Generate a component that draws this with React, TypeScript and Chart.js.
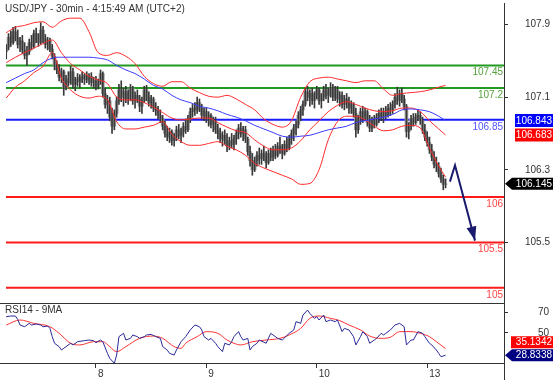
import React, { useEffect, useRef } from 'react';
import { Chart, registerables } from 'chart.js';

Chart.register(...registerables);

const FONT = "'Liberation Sans', Arial, Helvetica, sans-serif";
const TITLE = 'USD/JPY - 30min - 4:15:49 AM (UTC+2)';
const RSI_TITLE = 'RSI14 - 9MA';

const X_MIN = -0.1;
const X_MAX = 216.4;
const PRICE_MIN = 104.833;
const PRICE_MAX = 108.137;
const RSI_MIN = 21.4;
const RSI_MAX = 78.6;

const dayTickIndex = [39, 87, 135, 183];
const dayTickLabels = ['8', '9', '10', '13'];
const priceTicks = [105.5, 106.3, 107.1, 107.9];
const rsiTicks = [50, 70];

const opens = [
  107.60,107.65,107.76,107.70,107.82,107.75,107.68,107.72,107.62,107.56,107.60,107.70,
  107.66,107.80,107.74,107.70,107.84,107.74,107.68,107.72,107.63,107.55,107.44,107.40,
  107.32,107.38,107.20,107.30,107.26,107.38,107.24,107.30,107.27,107.32,107.30,107.34,
  107.29,107.33,107.26,107.28,107.22,107.26,107.36,107.14,107.02,107.06,106.88,106.78,
  106.92,107.06,107.18,107.10,107.16,107.08,107.14,107.20,107.06,107.12,107.08,107.00,
  107.06,107.18,107.10,107.04,107.08,106.98,106.96,106.90,106.86,106.78,106.70,106.66,
  106.72,106.62,106.66,106.74,106.68,106.72,106.78,106.74,106.86,106.94,106.98,106.96,
  107.04,106.98,106.90,106.94,106.86,106.90,106.80,106.84,106.74,106.70,106.64,106.68,
  106.62,106.56,106.62,106.58,106.64,106.70,106.76,106.70,106.74,106.64,106.50,106.40,
  106.30,106.40,106.46,106.42,106.48,106.44,106.38,106.48,106.44,106.52,106.46,106.56,
  106.52,106.48,106.58,106.54,106.64,106.70,106.76,106.80,106.90,106.96,107.02,107.16,
  107.10,107.14,107.06,107.12,107.18,107.06,107.10,107.18,107.12,107.16,107.20,107.10,
  107.18,107.08,107.12,107.02,107.08,107.04,106.98,107.02,106.92,106.74,106.86,106.94,
  106.88,106.94,106.82,106.76,106.84,106.80,106.88,106.92,106.88,106.94,106.90,106.98,
  106.96,107.02,107.10,107.06,107.14,107.08,107.00,106.72,106.78,106.86,106.82,106.88,
  106.90,106.84,106.74,106.66,106.60,106.52,106.44,106.36,106.34,106.26,106.20,106.14,
];
const highs = [
  107.68,107.80,107.83,107.87,107.88,107.84,107.76,107.78,107.70,107.66,107.74,107.78,
  107.84,107.86,107.80,107.92,107.88,107.79,107.76,107.75,107.68,107.58,107.50,107.46,
  107.42,107.40,107.34,107.38,107.44,107.42,107.32,107.36,107.35,107.38,107.36,107.38,
  107.36,107.37,107.32,107.33,107.30,107.40,107.38,107.20,107.12,107.10,106.98,106.96,
  107.10,107.24,107.28,107.20,107.22,107.18,107.24,107.22,107.16,107.18,107.12,107.10,
  107.22,107.23,107.16,107.12,107.10,107.04,107.00,106.96,106.90,106.84,106.78,106.76,
  106.74,106.70,106.78,106.80,106.76,106.82,106.86,106.90,106.98,107.02,107.04,107.10,
  107.08,107.02,106.98,106.98,106.94,106.92,106.88,106.88,106.80,106.76,106.72,106.74,
  106.70,106.66,106.70,106.68,106.74,106.80,106.82,106.78,106.78,106.66,106.56,106.48,
  106.44,106.50,106.54,106.52,106.56,106.50,106.52,106.54,106.56,106.58,106.60,106.66,
  106.58,106.62,106.66,106.68,106.74,106.80,106.84,106.94,107.00,107.06,107.20,107.22,
  107.18,107.20,107.16,107.22,107.20,107.14,107.22,107.24,107.20,107.26,107.24,107.22,
  107.22,107.16,107.16,107.12,107.14,107.10,107.06,107.04,106.98,106.90,106.98,107.00,
  106.98,106.96,106.90,106.88,106.90,106.92,106.96,106.98,106.98,107.00,107.02,107.04,
  107.06,107.14,107.21,107.18,107.20,107.12,107.02,106.82,106.90,106.92,106.92,106.96,
  106.94,106.88,106.80,106.72,106.66,106.58,106.50,106.44,106.38,106.32,106.24,106.20,
];
const lows = [
  107.52,107.62,107.66,107.68,107.72,107.64,107.60,107.58,107.52,107.45,107.57,107.62,
  107.64,107.70,107.66,107.68,107.70,107.64,107.62,107.60,107.52,107.40,107.36,107.28,
  107.26,107.12,107.18,107.22,107.24,107.20,107.17,107.22,107.20,107.26,107.24,107.26,
  107.24,107.22,107.20,107.18,107.19,107.24,107.10,106.98,106.92,106.84,106.70,106.74,
  106.88,107.02,107.05,107.00,107.04,107.02,107.06,107.02,106.98,107.04,106.94,106.92,
  107.04,107.06,107.00,106.98,106.94,106.90,106.86,106.82,106.74,106.66,106.62,106.60,
  106.57,106.56,106.62,106.64,106.60,106.66,106.70,106.72,106.82,106.88,106.90,106.92,
  106.94,106.86,106.84,106.82,106.78,106.76,106.72,106.70,106.64,106.60,106.56,106.58,
  106.50,106.52,106.54,106.52,106.58,106.64,106.66,106.62,106.60,106.46,106.34,106.24,
  106.28,106.34,106.36,106.36,106.40,106.32,106.36,106.40,106.40,106.42,106.44,106.48,
  106.42,106.46,106.50,106.52,106.58,106.62,106.68,106.76,106.84,106.90,107.00,107.06,
  107.00,107.02,106.98,107.08,107.02,106.98,107.06,107.08,107.04,107.10,107.06,107.06,
  107.04,107.00,106.98,106.96,106.98,106.92,106.92,106.88,106.66,106.70,106.80,106.82,
  106.84,106.78,106.72,106.72,106.76,106.78,106.82,106.84,106.82,106.86,106.88,106.90,
  106.92,106.98,107.02,107.00,107.04,106.96,106.66,106.64,106.74,106.78,106.80,106.84,
  106.80,106.70,106.62,106.56,106.48,106.40,106.32,106.28,106.22,106.16,106.08,106.10,
];
const closes = [
  107.65,107.76,107.70,107.82,107.75,107.68,107.72,107.62,107.56,107.60,107.70,107.66,
  107.80,107.74,107.70,107.84,107.74,107.68,107.72,107.63,107.55,107.44,107.40,107.32,
  107.38,107.20,107.30,107.26,107.38,107.24,107.30,107.27,107.32,107.30,107.34,107.29,
  107.33,107.26,107.28,107.22,107.26,107.36,107.14,107.02,107.06,106.88,106.78,106.92,
  107.06,107.18,107.10,107.16,107.08,107.14,107.20,107.06,107.12,107.08,107.00,107.06,
  107.18,107.10,107.04,107.08,106.98,106.96,106.90,106.86,106.78,106.70,106.66,106.72,
  106.62,106.66,106.74,106.68,106.72,106.78,106.74,106.86,106.94,106.98,106.96,107.04,
  106.98,106.90,106.94,106.86,106.90,106.80,106.84,106.74,106.70,106.64,106.68,106.62,
  106.56,106.62,106.58,106.64,106.70,106.76,106.70,106.74,106.64,106.50,106.40,106.30,
  106.40,106.46,106.42,106.48,106.44,106.38,106.48,106.44,106.52,106.46,106.56,106.52,
  106.48,106.58,106.54,106.64,106.70,106.76,106.80,106.90,106.96,107.02,107.16,107.10,
  107.14,107.06,107.12,107.18,107.06,107.10,107.18,107.12,107.16,107.20,107.10,107.18,
  107.08,107.12,107.02,107.08,107.04,106.98,107.02,106.92,106.74,106.86,106.94,106.88,
  106.94,106.82,106.76,106.84,106.80,106.88,106.92,106.88,106.94,106.90,106.98,106.96,
  107.02,107.10,107.06,107.14,107.08,107.00,106.72,106.78,106.86,106.82,106.88,106.90,
  106.84,106.74,106.66,106.60,106.52,106.44,106.36,106.34,106.26,106.20,106.14,106.145,
];

const maIndex = [
  0,4,8,12,16,20,24,28,32,36,40,44,48,52,56,60,64,68,72,76,80,84,88,92,
  96,100,104,108,112,116,120,124,128,132,136,140,144,148,152,156,160,164,168,172,176,180,184,188,191,
];
const bbUpper = [
  107.81,107.87,107.89,107.92,107.93,107.87,107.94,107.97,107.97,107.82,107.59,107.56,
  107.59,107.55,107.47,107.33,107.25,107.22,107.27,107.27,107.20,107.15,107.11,107.10,
  107.12,107.08,107.02,106.96,106.86,106.80,106.77,106.84,107.10,107.27,107.31,107.32,
  107.30,107.28,107.26,107.28,107.28,107.19,107.12,107.14,107.15,107.16,107.18,107.21,
  107.23,
];
const bbMiddle = [
  107.48,107.54,107.59,107.64,107.69,107.73,107.59,107.47,107.40,107.33,107.29,107.25,
  107.10,107.07,107.07,107.04,106.99,106.93,106.87,106.85,106.86,106.87,106.87,106.82,
  106.77,106.73,106.71,106.63,106.56,106.52,106.52,106.54,106.62,106.74,106.84,106.94,
  107.01,107.05,107.02,106.98,106.95,106.94,106.95,106.98,106.98,106.94,106.84,106.75,
  106.683,
];
const bbLower = [
  107.09,107.21,107.28,107.37,107.44,107.59,107.31,107.18,107.11,107.09,107.11,107.07,
  106.83,106.75,106.75,106.77,106.79,106.83,106.69,106.61,106.57,106.57,106.59,106.61,
  106.56,106.52,106.46,106.37,106.32,106.28,106.24,106.20,106.14,106.15,106.30,106.63,
  106.83,106.89,106.89,106.85,106.78,106.73,106.74,106.78,106.79,106.76,106.54,106.34,
  106.22,
];
const maBlue = [
  107.26,107.31,107.36,107.40,107.48,107.53,107.54,107.54,107.54,107.54,107.53,107.51,
  107.45,107.40,107.36,107.30,107.23,107.19,107.12,107.07,107.04,107.00,106.98,106.95,
  106.91,106.88,106.84,106.79,106.75,106.71,106.67,106.66,106.67,106.68,106.71,106.74,
  106.76,106.78,106.82,106.84,106.86,106.88,106.91,106.96,106.97,106.96,106.94,106.89,
  106.843,
];

const levelValues = [107.45, 107.2, 106.85, 106, 105.5, 105];
const levelLabels = ['107.45', '107.2', '106.85', '106', '105.5', '105'];
const levelColors = ['#229922', '#229922', '#1a1aff', '#ff1a1a', '#ff1a1a', '#ff1a1a'];
const levelTextColors = ['#55a03c', '#55a03c', '#5555ff', '#ff4444', '#ff4444', '#ff4444'];

const arrowIndex = [192.9, 195.1, 203.8];
const arrowPrice = [106.17, 106.35, 105.52];

const rsiIndex = [
  0,2,4,5,6,8,10,11,13,15,16,18,19,20,21,23,24,25,26,28,29,31,34,36,38,39,41,42,44,45,
  47,48,49,51,52,54,55,57,58,60,61,63,65,67,68,70,71,73,74,76,78,80,82,84,85,86,88,89,91,92,
  94,95,97,98,99,101,102,103,105,106,107,109,110,113,115,116,118,120,123,125,126,128,129,131,132,
  134,135,136,138,139,141,143,144,146,147,149,151,152,154,155,157,158,160,161,163,164,165,167,169,171,
  173,174,176,177,179,181,182,184,185,187,188,189,191,
];
const rsiValues = [
  65.5,66.2,66.2,62.9,57.6,56,59.2,57.6,58.6,57.6,56,56.6,54.4,46.5,40.2,37,33.8,35.4,37,40.2,
  38.6,41.7,42.7,43.3,42.7,40.8,43.3,41.7,30.6,25.9,21.1,29,46.5,49.7,43.3,44.9,48.1,46.5,44.9,46.5,
  48.1,48.7,46.5,44.9,37,33.8,30.6,29,33.8,41.7,46.5,52.9,57.6,56,52.9,46.5,43.3,44.9,40.2,37,
  32.2,40.2,38.6,41.7,46.5,51.3,46.5,43.3,44.9,33.8,37,40.2,43.3,40.2,49.7,48.1,44.9,43.3,49.7,52.9,
  60.8,59.2,67.1,71.9,68.7,64,65.6,62.4,67.1,60.8,62.4,60.8,62.4,51.3,54.4,52.9,46.5,38.6,46.5,51.3,
  46.5,40.2,43.3,44.9,49.7,48.1,49.7,52.9,57.6,59.2,56,38.6,43.3,43.3,51.3,49.7,46.5,40.2,38.6,33.8,
  30.6,27.4,28.83,
];
const rsiMaIndex = [
  0,6,12,19,23,28,32,38,42,45,48,52,58,64,68,73,76,78,83,87,92,96,99,102,107,113,119,123,
  128,132,136,141,145,149,154,158,163,167,171,176,180,184,187,191,
];
const rsiMaValues = [
  57.6,62.4,59.2,56,49.7,40.2,38.6,41.7,41.7,37,32.2,37,44.9,47.1,44.9,37,35.4,40.2,46.5,51.3,
  49.7,43.3,40.2,38.6,41.7,43.3,44.9,48.1,54.4,64,66.2,64,61.8,57.6,52.9,47.1,44.9,45.9,51.3,51.3,
  49.7,46.5,41.7,35.13,
];

const lastClose = 106.145;
const maBlueLast = 106.843;
const bbMiddleLast = 106.683;
const rsiLast = 28.8338;
const rsiMaLast = 35.1342;

function drawBox(ctx: any, xLeft: number, xRight: number, yc: number, h: number, color: string, text: string, pointerX?: number) {
  const top = yc - h / 2;
  const bot = yc + h / 2;
  ctx.beginPath();
  if (pointerX !== undefined) {
    ctx.moveTo(pointerX, yc);
    ctx.lineTo(xLeft, top);
    ctx.lineTo(xRight, top);
    ctx.lineTo(xRight, bot);
    ctx.lineTo(xLeft, bot);
    ctx.closePath();
  } else {
    ctx.rect(xLeft, top, xRight - xLeft, h);
  }
  ctx.fillStyle = color;
  ctx.fill();
  ctx.fillStyle = '#ffffff';
  ctx.font = `10px ${FONT}`;
  ctx.textAlign = 'right';
  ctx.textBaseline = 'middle';
  ctx.fillText(text, xRight - 1, yc + 0.5);
}

function linePoints(xs: number[], ys: number[]) {
  return xs.map((x, k) => ({ x, y: ys[k] }));
}

function noPadFitY(s: any) {
  s.width = 54;
  s.paddingTop = 0;
  s.paddingBottom = 0;
}

function mainConfig(): any {
  const levelDatasets = levelValues.map((v, k) => ({
    type: 'line',
    label: 'level' + k,
    data: [{ x: X_MIN, y: v }, { x: X_MAX, y: v }],
    borderColor: levelColors[k],
    borderWidth: 2,
    pointRadius: 0,
    tension: 0,
    order: 20,
  }));
  const bodies = {
    type: 'bar',
    label: 'body',
    data: opens.map((o, i) => ({ x: i, y: [o, closes[i]] })),
    backgroundColor: '#9e9e9e',
    barThickness: 3,
    grouped: false,
    order: 10,
  };
  const wicks = {
    type: 'bar',
    label: 'wick',
    data: highs.map((h, i) => ({ x: i, y: [lows[i], h] })),
    backgroundColor: '#383838',
    barThickness: 1,
    grouped: false,
    order: 9,
  };
  const lineStyle = { type: 'line', pointRadius: 0, borderWidth: 1, cubicInterpolationMode: 'monotone', order: 4 };
  const arrowDs = {
    type: 'line',
    label: 'arrow',
    data: linePoints(arrowIndex, arrowPrice),
    borderColor: '#1b1b6e',
    borderWidth: 2,
    pointRadius: 0,
    tension: 0,
    order: 1,
  };
  const datasets: any[] = [
    ...levelDatasets,
    bodies,
    wicks,
    { ...lineStyle, label: 'maBlue', data: linePoints(maIndex, maBlue), borderColor: '#3b3bff' },
    { ...lineStyle, label: 'bbUpper', data: linePoints(maIndex, bbUpper), borderColor: '#ff2a2a' },
    { ...lineStyle, label: 'bbMiddle', data: linePoints(maIndex, bbMiddle), borderColor: '#ff2a2a' },
    { ...lineStyle, label: 'bbLower', data: linePoints(maIndex, bbLower), borderColor: '#ff2a2a' },
    arrowDs,
  ];
  const arrowDatasetIndex = datasets.length - 1;

  const overlay = {
    id: 'mainOverlay',
    afterDraw(chart: any) {
      const { ctx, chartArea, scales } = chart;
      const y = scales.y;
      ctx.save();
      ctx.font = `10px ${FONT}`;
      ctx.textAlign = 'right';
      ctx.textBaseline = 'top';
      levelValues.forEach((v, k) => {
        const py = y.getPixelForValue(v);
        ctx.fillStyle = levelTextColors[k];
        ctx.fillText(levelLabels[k], chartArea.right - 1, py + 2);
      });
      const pts = chart.getDatasetMeta(arrowDatasetIndex).data;
      if (pts.length >= 2) {
        const a = pts[pts.length - 2];
        const b = pts[pts.length - 1];
        const dx = b.x - a.x;
        const dy = b.y - a.y;
        const len = Math.sqrt(dx * dx + dy * dy);
        const ux = dx / len;
        const uy = dy / len;
        const hl = 14;
        const hw = 5;
        const bx = b.x - ux * hl;
        const by = b.y - uy * hl;
        ctx.beginPath();
        ctx.moveTo(b.x, b.y);
        ctx.lineTo(bx - uy * hw, by + ux * hw);
        ctx.lineTo(bx + uy * hw, by - ux * hw);
        ctx.closePath();
        ctx.fillStyle = '#1b1b6e';
        ctx.fill();
      }
      ctx.fillStyle = '#333333';
      ctx.textAlign = 'left';
      ctx.textBaseline = 'top';
      ctx.font = `10px ${FONT}`;
      ctx.fillText(TITLE, 5, 4);
      const R = chartArea.right;
      const h = 13;
      const yBlue = y.getPixelForValue(maBlueLast);
      let yRed = y.getPixelForValue(bbMiddleLast);
      if (yRed - h / 2 < yBlue + h / 2) yRed = yBlue + h;
      drawBox(ctx, R + 11, R + 49, yBlue, h, '#0000ff', maBlueLast.toFixed(3));
      drawBox(ctx, R + 11, R + 49, yRed, h, '#ff0000', bbMiddleLast.toFixed(3));
      drawBox(ctx, R + 8, R + 49, y.getPixelForValue(lastClose), h - 1, '#000000', lastClose.toFixed(3), R + 1);
      ctx.restore();
    },
  };

  return {
    type: 'bar',
    data: { datasets },
    plugins: [overlay],
    options: {
      responsive: false,
      animation: false,
      devicePixelRatio: 1,
      events: [],
      layout: { padding: { left: 6, top: 3, right: 0, bottom: 0 }, autoPadding: false },
      plugins: { legend: { display: false }, tooltip: { enabled: false }, title: { display: false } },
      scales: {
        x: { type: 'linear', min: X_MIN, max: X_MAX, display: false, offset: false, grid: { offset: false } },
        y: {
          type: 'linear',
          position: 'right',
          min: PRICE_MIN,
          max: PRICE_MAX,
          afterFit: noPadFitY,
          afterBuildTicks: (s: any) => { s.ticks = priceTicks.map((v) => ({ value: v })); },
          grid: { drawOnChartArea: false, tickLength: 4, color: '#333333' },
          border: { display: true, color: '#333333', width: 1 },
          ticks: {
            padding: 17,
            color: '#333333',
            font: { family: FONT, size: 10 },
            callback: (v: any) => Number(v).toFixed(1),
          },
        },
      },
    },
  };
}

function rsiConfig(): any {
  const overlay = {
    id: 'rsiOverlay',
    afterDraw(chart: any) {
      const { ctx, chartArea, scales } = chart;
      const y = scales.y;
      ctx.save();
      ctx.strokeStyle = '#333333';
      ctx.lineWidth = 1;
      const R = Math.round(chartArea.right);
      ctx.beginPath();
      ctx.moveTo(0, Math.round(chartArea.top) + 0.5);
      ctx.lineTo(R + 1, Math.round(chartArea.top) + 0.5);
      ctx.moveTo(0, Math.round(chartArea.bottom) + 0.5);
      ctx.lineTo(R + 1, Math.round(chartArea.bottom) + 0.5);
      ctx.moveTo(R + 0.5, chartArea.bottom);
      ctx.lineTo(R + 0.5, chart.height);
      ctx.stroke();
      ctx.fillStyle = '#333333';
      ctx.font = `10px ${FONT}`;
      ctx.textAlign = 'left';
      ctx.textBaseline = 'top';
      ctx.fillText(RSI_TITLE, 5, chartArea.top + 2);
      const h = 12;
      const yNavy = y.getPixelForValue(rsiLast);
      let yRed = y.getPixelForValue(rsiMaLast);
      if (yRed + h / 2 > yNavy - h / 2 - 1) yRed = yNavy - h - 1;
      drawBox(ctx, R + 7, R + 49, yRed, h, '#ff0000', rsiMaLast.toFixed(4));
      drawBox(ctx, R + 8, R + 49, yNavy, h, '#000080', rsiLast.toFixed(4), R + 1);
      ctx.restore();
    },
  };
  return {
    type: 'line',
    data: {
      datasets: [
        {
          label: 'RSI14',
          data: linePoints(rsiIndex, rsiValues),
          borderColor: '#2a2a9a',
          borderWidth: 1,
          pointRadius: 0,
          tension: 0,
        },
        {
          label: '9MA',
          data: linePoints(rsiMaIndex, rsiMaValues),
          borderColor: '#ff3333',
          borderWidth: 1,
          pointRadius: 0,
          cubicInterpolationMode: 'monotone',
        },
      ],
    },
    plugins: [overlay],
    options: {
      responsive: false,
      animation: false,
      devicePixelRatio: 1,
      events: [],
      layout: { padding: { left: 6, top: 3, right: 0, bottom: 0 }, autoPadding: false },
      plugins: { legend: { display: false }, tooltip: { enabled: false } },
      scales: {
        x: {
          type: 'linear',
          min: X_MIN,
          max: X_MAX,
          offset: false,
          afterBuildTicks: (s: any) => { s.ticks = dayTickIndex.map((v) => ({ value: v })); },
          afterFit: (s: any) => { s.height = 17; s.paddingLeft = 0; s.paddingRight = 0; },
          grid: { drawOnChartArea: false, tickLength: 5, color: '#333333', offset: false },
          border: { display: false },
          ticks: {
            autoSkip: false,
            maxRotation: 0,
            align: 'start',
            labelOffset: 2,
            padding: 0,
            color: '#333333',
            font: { family: FONT, size: 10 },
            callback: (_v: any, i: number) => dayTickLabels[i],
          },
        },
        y: {
          type: 'linear',
          position: 'right',
          min: RSI_MIN,
          max: RSI_MAX,
          afterFit: noPadFitY,
          afterBuildTicks: (s: any) => { s.ticks = rsiTicks.map((v) => ({ value: v })); },
          grid: { drawOnChartArea: false, tickLength: 4, color: '#333333' },
          border: { display: true, color: '#333333', width: 1 },
          ticks: { padding: 30, color: '#333333', font: { family: FONT, size: 10 } },
        },
      },
    },
  };
}

export default function App() {
  const mainRef = useRef<HTMLCanvasElement>(null);
  const rsiRef = useRef<HTMLCanvasElement>(null);
  useEffect(() => {
    const main = new Chart(mainRef.current as HTMLCanvasElement, mainConfig());
    const rsi = new Chart(rsiRef.current as HTMLCanvasElement, rsiConfig());
    return () => {
      main.destroy();
      rsi.destroy();
    };
  }, []);
  return (
    <div style={{ position: 'fixed', left: 0, top: 0, width: 558, height: 380, background: '#ffffff', overflow: 'hidden' }}>
      <canvas ref={mainRef} width={558} height={303} style={{ position: 'absolute', left: 0, top: 0, width: 558, height: 303 }} />
      <canvas ref={rsiRef} width={558} height={80} style={{ position: 'absolute', left: 0, top: 300, width: 558, height: 80 }} />
    </div>
  );
}
